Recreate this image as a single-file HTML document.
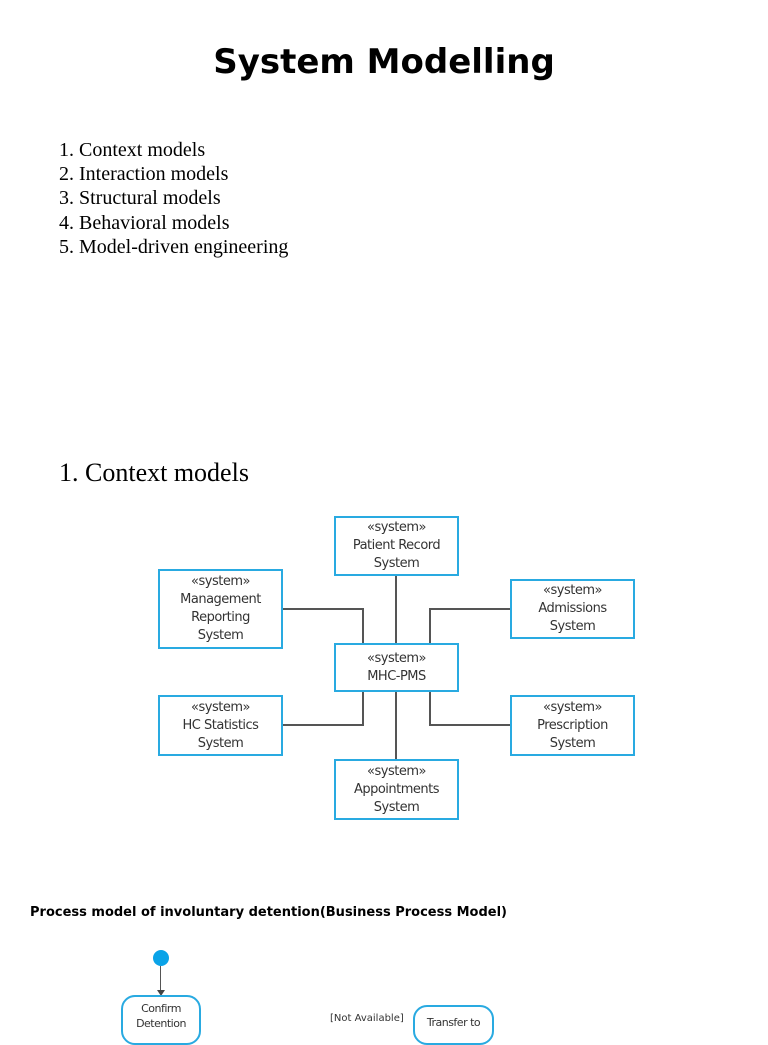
<!DOCTYPE html>
<html><head><style>
body{margin:0;width:768px;height:1024px;background:#fff;position:relative;overflow:hidden}
.t{position:absolute;white-space:nowrap}
.b{position:absolute;border:2px solid #29aae1;box-sizing:border-box;background:#fff;font-family:"DejaVu Sans","Liberation Sans",sans-serif;font-size:13px;color:#333;text-align:center;display:flex;flex-direction:column;justify-content:center;line-height:18px;letter-spacing:-0.5px}
.l{position:absolute;background:#555}
</style></head><body>
<div class="t" style="left:0;width:768px;text-align:center;top:42px;font-family:'DejaVu Sans',sans-serif;font-weight:bold;font-size:34px;">System Modelling</div>
<div class="t" style="left:59px;top:138px;font-family:'Liberation Serif',serif;font-size:20px;line-height:24.2px">1. Context models<br>2. Interaction models<br>3. Structural models<br>4. Behavioral models<br>5. Model-driven engineering</div>
<div class="t" style="left:59px;top:458px;font-family:'Liberation Serif',serif;font-size:26px">1. Context models</div>

<div class="l" style="left:395px;top:575px;width:2px;height:186px"></div>
<div class="l" style="left:282px;top:608px;width:82px;height:2px"></div>
<div class="l" style="left:362px;top:608px;width:2px;height:37px"></div>
<div class="l" style="left:429px;top:608px;width:83px;height:2px"></div>
<div class="l" style="left:429px;top:608px;width:2px;height:37px"></div>
<div class="l" style="left:282px;top:724px;width:82px;height:2px"></div>
<div class="l" style="left:362px;top:690px;width:2px;height:36px"></div>
<div class="l" style="left:429px;top:724px;width:83px;height:2px"></div>
<div class="l" style="left:429px;top:690px;width:2px;height:36px"></div>

<div class="b" style="left:334px;top:516px;width:125px;height:60px">«system»<br>Patient Record<br>System</div>
<div class="b" style="left:158px;top:569px;width:125px;height:80px">«system»<br>Management<br>Reporting<br>System</div>
<div class="b" style="left:510px;top:579px;width:125px;height:60px">«system»<br>Admissions<br>System</div>
<div class="b" style="left:334px;top:643px;width:125px;height:49px">«system»<br>MHC-PMS</div>
<div class="b" style="left:158px;top:695px;width:125px;height:61px">«system»<br>HC Statistics<br>System</div>
<div class="b" style="left:510px;top:695px;width:125px;height:61px">«system»<br>Prescription<br>System</div>
<div class="b" style="left:334px;top:759px;width:125px;height:61px">«system»<br>Appointments<br>System</div>

<div class="t" style="left:30px;top:905px;font-family:'DejaVu Sans',sans-serif;font-weight:bold;font-size:13px">Process model of involuntary detention(Business Process Model)</div>
<div style="position:absolute;left:153px;top:950px;width:16px;height:16px;border-radius:50%;background:#0aa3e8"></div>
<div class="l" style="left:160px;top:966px;width:1px;height:26px"></div>
<div style="position:absolute;left:157px;top:990px;border-left:4px solid transparent;border-right:4px solid transparent;border-top:6px solid #444"></div>
<div class="b" style="left:121px;top:995px;width:80px;height:50px;border-radius:14px;justify-content:flex-start;padding-top:4px;font-size:11px;line-height:15px">Confirm<br>Detention</div>
<div class="t" style="left:330px;top:1013px;font-family:'DejaVu Sans',sans-serif;font-size:10px;color:#333">[Not Available]</div>
<div class="b" style="left:413px;top:1005px;width:81px;height:40px;border-radius:14px;justify-content:flex-start;padding-top:8px;font-size:11px;line-height:15px">Transfer to</div>
</body></html>
